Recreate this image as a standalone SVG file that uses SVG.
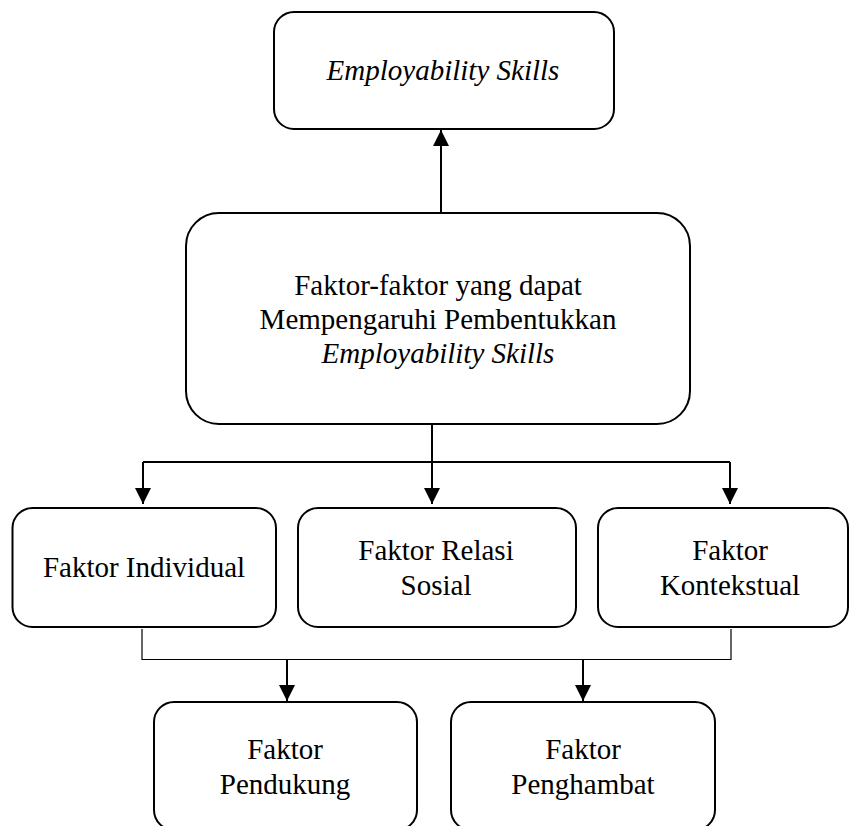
<svg xmlns="http://www.w3.org/2000/svg" width="849" height="826" viewBox="0 0 849 826">
<defs>
<marker id="ah" markerWidth="16" markerHeight="16" viewBox="0 0 16 16" refX="16" refY="8" orient="auto" markerUnits="userSpaceOnUse">
<path d="M0,0 L16,8 L0,16 Z" fill="#000"/>
</marker>
</defs>
<rect width="849" height="826" fill="#fff"/>
<g id="connectors" stroke="#000" stroke-width="2" fill="none">
<line x1="441" y1="213" x2="441" y2="130" marker-end="url(#ah)"/>
<line x1="432" y1="424" x2="432" y2="462"/>
<line x1="143" y1="462" x2="730" y2="462"/>
<line x1="143" y1="462" x2="143" y2="504" marker-end="url(#ah)"/>
<line x1="432" y1="462" x2="432" y2="504" marker-end="url(#ah)"/>
<line x1="730" y1="462" x2="730" y2="504" marker-end="url(#ah)"/>
<path d="M142,629 V659.5 H731 V629" stroke-width="1.2"/>
<line x1="287" y1="659" x2="287" y2="701" marker-end="url(#ah)"/>
<line x1="583" y1="659" x2="583" y2="701" marker-end="url(#ah)"/>
</g>
<g id="node-employability">
<rect x="274" y="12" width="340" height="117" rx="20" fill="#fff" stroke="#000" stroke-width="2"/>
<text x="443" y="80" font-family="Liberation Serif" font-size="29" font-style="italic" text-anchor="middle">Employability Skills</text>
</g>
<g id="node-faktor">
<rect x="186" y="213" width="504" height="211" rx="33" fill="#fff" stroke="#000" stroke-width="2"/>
<text x="438" y="295" font-family="Liberation Serif" font-size="29" text-anchor="middle">Faktor-faktor yang dapat</text>
<text x="438" y="329" font-family="Liberation Serif" font-size="29" text-anchor="middle">Mempengaruhi Pembentukkan</text>
<text x="438" y="363" font-family="Liberation Serif" font-size="29" font-style="italic" text-anchor="middle">Employability Skills</text>
</g>
<g id="node-individual">
<rect x="12.5" y="508" width="263.5" height="119" rx="20" fill="#fff" stroke="#000" stroke-width="2"/>
<text x="144" y="577" font-family="Liberation Serif" font-size="29" text-anchor="middle">Faktor Individual</text>
</g>
<g id="node-relasi">
<rect x="298" y="508" width="278" height="119" rx="20" fill="#fff" stroke="#000" stroke-width="2"/>
<text x="436" y="560" font-family="Liberation Serif" font-size="29" text-anchor="middle">Faktor Relasi</text>
<text x="436" y="595" font-family="Liberation Serif" font-size="29" text-anchor="middle">Sosial</text>
</g>
<g id="node-kontekstual">
<rect x="598" y="508" width="250" height="119" rx="20" fill="#fff" stroke="#000" stroke-width="2"/>
<text x="730" y="560" font-family="Liberation Serif" font-size="29" text-anchor="middle">Faktor</text>
<text x="730" y="595" font-family="Liberation Serif" font-size="29" text-anchor="middle">Kontekstual</text>
</g>
<g id="node-pendukung">
<rect x="154" y="702" width="263" height="128" rx="20" fill="#fff" stroke="#000" stroke-width="2"/>
<text x="285" y="759" font-family="Liberation Serif" font-size="29" text-anchor="middle">Faktor</text>
<text x="285" y="794" font-family="Liberation Serif" font-size="29" text-anchor="middle">Pendukung</text>
</g>
<g id="node-penghambat">
<rect x="451" y="702" width="264" height="128" rx="20" fill="#fff" stroke="#000" stroke-width="2"/>
<text x="583" y="759" font-family="Liberation Serif" font-size="29" text-anchor="middle">Faktor</text>
<text x="583" y="794" font-family="Liberation Serif" font-size="29" text-anchor="middle">Penghambat</text>
</g>
</svg>
